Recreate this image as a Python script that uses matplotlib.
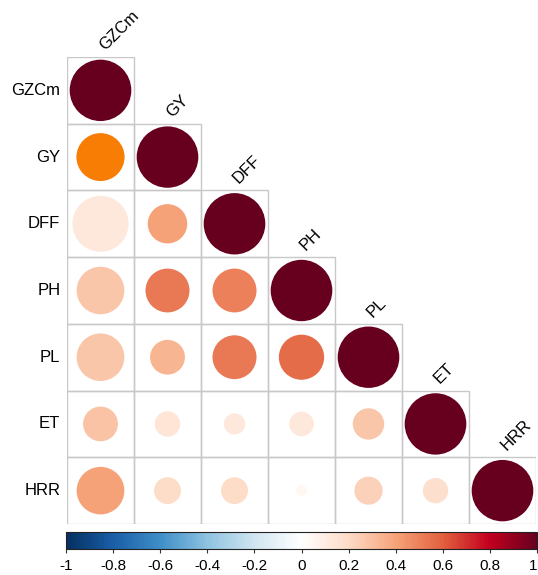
import numpy as np
import matplotlib
matplotlib.use("Agg")
import matplotlib.pyplot as plt
from matplotlib.colors import LinearSegmentedColormap, Normalize
from matplotlib.patches import Circle, Rectangle
from matplotlib.cm import ScalarMappable

plt.rcParams['font.family'] = ['Liberation Sans', 'DejaVu Sans']

labels = ['GZCm', 'GY', 'DFF', 'PH', 'PL', 'ET', 'HRR']

# lower-triangle values used for colour (row i, columns 0..i)
corr_colour = [
    [1.0],
    [0.60, 1.0],
    [0.12, 0.40, 1.0],
    [0.27, 0.52, 0.50, 1.0],
    [0.27, 0.33, 0.52, 0.56, 1.0],
    [0.28, 0.15, 0.12, 0.12, 0.27, 1.0],
    [0.40, 0.19, 0.19, 0.04, 0.23, 0.17, 1.0],
]
# lower-triangle values used for circle size (area proportional to value)
corr_size = [
    [1.0],
    [0.61, 1.0],
    [0.83, 0.41, 1.0],
    [0.60, 0.51, 0.51, 1.0],
    [0.60, 0.32, 0.51, 0.54, 1.0],
    [0.32, 0.17, 0.12, 0.16, 0.26, 1.0],
    [0.60, 0.19, 0.19, 0.03, 0.21, 0.17, 1.0],
]
# cells drawn with a highlight colour instead of the colour scale
highlight = {(1, 0): '#F77D05'}

cbar_ticks = [-1, -0.8, -0.6, -0.4, -0.2, 0, 0.2, 0.4, 0.6, 0.8, 1]
cbar_labels = ['-1', '-0.8', '-0.6', '-0.4', '-0.2', '0', '0.2', '0.4',
               '0.6', '0.8', '1']

palette = ["#053061", "#1A5FA8", "#3F8FC8", "#8FC3E0", "#D1E5F0", "#FFFFFF",
           "#FDDBC7", "#F6A47A", "#E2613F", "#C3001F", "#67001F"]
cmap = LinearSegmentedColormap.from_list('corrRdBu', palette, N=200)
norm = Normalize(-1, 1)

W, H = 538, 575
fig = plt.figure(figsize=(W / 100, H / 100), dpi=100)
n = len(labels)
ax = fig.add_axes([67 / W, (H - 524) / H, 469 / W, 467 / H])
ax.set_xlim(0, n)
ax.set_ylim(n, 0)
ax.axis('off')

for i in range(n):
    for j in range(i + 1):
        ax.add_patch(Rectangle((j, i), 1, 1, fill=False, edgecolor='#C8C8C8',
                               linewidth=1.0, zorder=1))
        c = highlight.get((i, j), cmap(norm(corr_colour[i][j])))
        rad = 0.46 * np.sqrt(abs(corr_size[i][j]))
        ax.add_patch(Circle((j + 0.5, i + 0.5), rad, facecolor=c,
                            edgecolor='none', zorder=2))

for i, lab in enumerate(labels):
    ax.text(-0.1, i + 0.5, lab, ha='right', va='center', fontsize=12,
            color='black')
    ax.text(i + 0.6, i - 0.06, lab, ha='left', va='bottom', fontsize=12,
            rotation=45, rotation_mode='anchor', color='black')

cax = fig.add_axes([66 / W, (H - 549) / H, 471 / W, 17 / H])
sm = ScalarMappable(norm=norm, cmap=cmap)
cb = fig.colorbar(sm, cax=cax, orientation='horizontal', ticks=cbar_ticks)
cb.set_ticklabels(cbar_labels)
cb.ax.tick_params(labelsize=11, length=3, width=0.8, pad=4, color='#333333')
cb.outline.set_linewidth(0.8)
cb.outline.set_edgecolor('#222222')
tl = cb.ax.get_xticklabels()
tl[0].set_horizontalalignment('center')
tl[-1].set_horizontalalignment('right')

fig.savefig('out.png', dpi=100)
